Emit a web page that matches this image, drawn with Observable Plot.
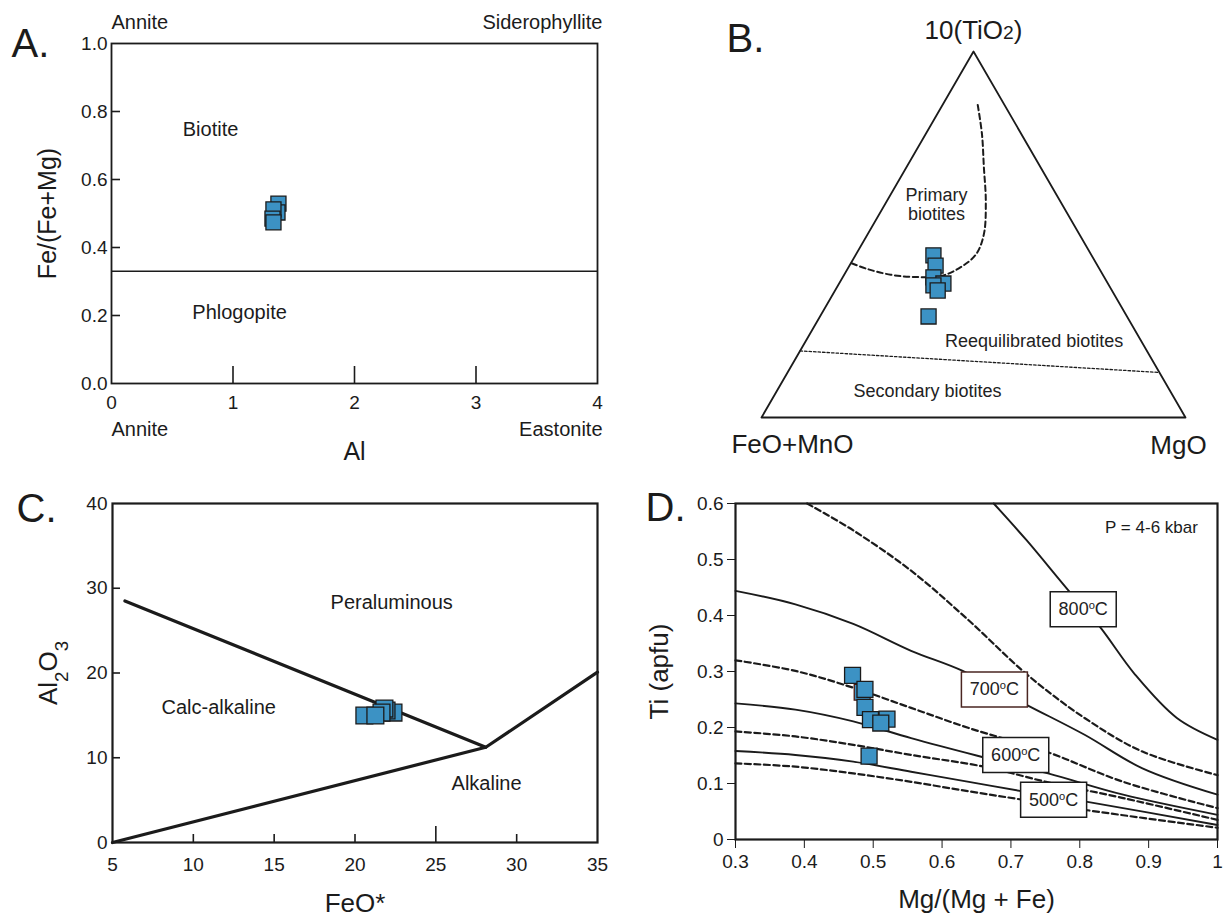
<!DOCTYPE html>
<html>
<head>
<meta charset="utf-8">
<script src="https://cdn.jsdelivr.net/npm/d3@7"></script>
<script src="https://cdn.jsdelivr.net/npm/@observablehq/plot@0.6"></script>
<style>
  body { margin: 0; background: #fff; }
  #fig { position: relative; width: 1226px; height: 920px; background: #fff; overflow: hidden; }
  #fig svg [aria-label^="x-axis"] text, #fig svg [aria-label^="y-axis"] text { font-size: 19px; }
</style>
</head>
<body>
<div id="fig"></div>
<script>
// ================= DATA =================
// Panel A: Al vs Fe/(Fe+Mg)
const aAl = [1.374, 1.366, 1.333, 1.325, 1.333];
const aFeRatio = [0.529, 0.503, 0.512, 0.485, 0.474];
const aTicksX = [0, 1, 2, 3, 4];
const aTicksY = [0, 0.2, 0.4, 0.6, 0.8, 1.0];
const aBoundary = [0.33];
const aFieldNames = ["Biotite", "Phlogopite"];
const aFieldX = [0.815, 1.054];
const aFieldY = [0.747, 0.21];

// Panel B: ternary 10(TiO2) - (FeO+MnO) - MgO (fractions)
const bFeO = [0.373, 0.382, 0.403, 0.388, 0.414, 0.411, 0.468];
const bMgO = [0.184, 0.203, 0.214, 0.246, 0.225, 0.242, 0.256];
const bTiO2 = [0.443, 0.415, 0.383, 0.366, 0.361, 0.347, 0.276];
const bPrimaryFe = [0.063, 0.093, 0.134, 0.175, 0.225, 0.271, 0.326, 0.382, 0.448, 0.500, 0.546, 0.578];
const bPrimaryMg = [0.083, 0.133, 0.183, 0.233, 0.274, 0.283, 0.264, 0.231, 0.168, 0.110, 0.049, 0.000];
const bPrimaryTi = [0.854, 0.774, 0.683, 0.592, 0.501, 0.446, 0.410, 0.387, 0.384, 0.390, 0.405, 0.422];
const bSecondaryFe = [0.818, 0.000];
const bSecondaryMg = [0.000, 0.877];
const bSecondaryTi = [0.182, 0.123];
const bTriFe = [1, 0, 0, 1];
const bTriMg = [0, 1, 0, 0];
const bTriTi = [0, 0, 1, 0];
const bFieldNames = ["Primary\nbiotites", "Reequilibrated biotites", "Secondary biotites"];
const bFieldFe = [0.297, 0.253, 0.572];
const bFieldMg = [0.122, 0.539, 0.355];
const bFieldTi = [0.581, 0.208, 0.073];

// Panel C: FeO* vs Al2O3
const cFeO = [22.38, 21.95, 21.82, 21.64, 20.58, 21.26];
const cAl2O3 = [15.33, 15.57, 15.80, 15.33, 14.98, 14.98];
const cUpperX = [5.77, 28.09];
const cUpperY = [28.5, 11.24];
const cLowerX = [5, 28.09, 35];
const cLowerY = [0, 11.24, 20.1];
const cTicksX = [5, 10, 15, 20, 25, 30, 35];
const cTicksY = [0, 10, 20, 30, 40];
const cFieldNames = ["Peraluminous", "Calc-alkaline", "Alkaline"];
const cFieldX = [22.27, 11.57, 28.14];
const cFieldY = [28.3, 15.96, 7.0];

// Panel D: Mg/(Mg+Fe) vs Ti (apfu) isotherms
const dMg = [0.484, 0.470, 0.488, 0.488, 0.520, 0.496, 0.511, 0.494];
const dTi = [0.263, 0.293, 0.268, 0.236, 0.215, 0.214, 0.208, 0.149];
const d800X = [0.675, 0.723, 0.784, 0.829, 0.880, 0.941, 1.0];
const d800Y = [0.600, 0.534, 0.444, 0.380, 0.295, 0.217, 0.178];
const d750X = [0.404, 0.471, 0.555, 0.639, 0.723, 0.807, 0.891, 1.0];
const d750Y = [0.600, 0.552, 0.480, 0.391, 0.295, 0.217, 0.157, 0.115];
const d700X = [0.3, 0.387, 0.471, 0.555, 0.630, 0.722, 0.807, 0.891, 1.0];
const d700Y = [0.444, 0.420, 0.385, 0.337, 0.301, 0.241, 0.187, 0.127, 0.080];
const d650X = [0.3, 0.387, 0.471, 0.555, 0.639, 0.751, 0.863, 1.0];
const d650Y = [0.320, 0.301, 0.271, 0.235, 0.199, 0.157, 0.103, 0.056];
const d600X = [0.3, 0.387, 0.471, 0.555, 0.650, 0.754, 0.863, 1.0];
const d600Y = [0.243, 0.232, 0.211, 0.181, 0.150, 0.118, 0.080, 0.044];
const d550X = [0.3, 0.387, 0.471, 0.555, 0.661, 0.751, 0.863, 1.0];
const d550Y = [0.193, 0.184, 0.169, 0.151, 0.130, 0.103, 0.074, 0.035];
const d500X = [0.3, 0.387, 0.471, 0.555, 0.639, 0.717, 0.807, 1.0];
const d500Y = [0.158, 0.151, 0.139, 0.121, 0.103, 0.086, 0.068, 0.026];
const d450X = [0.3, 0.387, 0.471, 0.555, 0.639, 0.717, 0.807, 1.0];
const d450Y = [0.136, 0.130, 0.118, 0.103, 0.086, 0.071, 0.053, 0.021];
const dBoxLabels = ["800^oC", "700^oC", "600^oC", "500^oC"];
const dBoxX = [0.805, 0.676, 0.707, 0.762];
const dBoxY = [0.411, 0.268, 0.151, 0.071];
const dTicksX = [0.3, 0.4, 0.5, 0.6, 0.7, 0.8, 0.9, 1.0];
const dTicksY = [0, 0.1, 0.2, 0.3, 0.4, 0.5, 0.6];

// ================= HELPERS =================
const W = 613, H = 460;
const font = '"Liberation Sans", Arial, Helvetica, sans-serif';
const ink = "#1b1b1b";
const blue = "#3c92c4";
const baseStyle = {fontFamily: font, fontSize: "19px", color: ink, background: "transparent", overflow: "visible"};
const pts = (xs, ys) => xs.map((x, i) => ({x, y: ys[i]}));
const one = s => [s];
const ID = d => d;
// label placed relative to the frame, centred on its anchor point
const lab = (s, anchor, dx, dy, fontSize, extra = {}) =>
  Plot.text(one(s), {frameAnchor: anchor, text: ID, dx, dy, fontSize, textAnchor: "middle", lineAnchor: "middle", fill: ink, ...extra});

function richify(svg) {
  svg.querySelectorAll("text").forEach(t => {
    if (t.children.length) return;
    const s = t.textContent;
    if (!/[_^~]/.test(s)) return;
    const parts = s.split(/([_^~].)/).filter(p => p);
    t.textContent = "";
    for (const p of parts) {
      const ts = document.createElementNS("http://www.w3.org/2000/svg", "tspan");
      if (p[0] === "_") { ts.textContent = p[1]; ts.setAttribute("font-size", "72%"); ts.setAttribute("baseline-shift", "sub"); }
      else if (p[0] === "^") { ts.textContent = p[1]; ts.setAttribute("font-size", "62%"); ts.setAttribute("baseline-shift", "super"); }
      else if (p[0] === "~") { ts.textContent = p[1]; ts.setAttribute("font-size", "74%"); }
      else ts.textContent = p;
      t.appendChild(ts);
    }
  });
}
function mount(svg, left, top) {
  svg.style.position = "absolute";
  svg.style.left = left + "px";
  svg.style.top = top + "px";
  richify(svg);
  document.getElementById("fig").appendChild(svg);
}
const sq = (r) => ({symbol: "square", r, fill: blue, stroke: ink, strokeWidth: 1.3});

// ================= PANEL A =================
{
  const rows = aAl.map((x, i) => ({x, y: aFeRatio[i]}));
  const fields = aFieldNames.map((t, i) => ({t, x: aFieldX[i], y: aFieldY[i]}));
  const p = Plot.plot({
    width: W, height: H, marginLeft: 111, marginRight: 16, marginTop: 43, marginBottom: 77,
    style: baseStyle,
    x: {domain: [0, 4], ticks: aTicksX, tickSize: 0, tickPadding: 12, tickFormat: d => String(d), label: null},
    y: {domain: [0, 1], ticks: aTicksY, tickSize: 0, tickPadding: 4, tickFormat: d3.format(".1f"), label: null},
    marks: [
      Plot.ruleY(aBoundary, {stroke: ink, strokeWidth: 1.5}),
      Plot.ruleX(aTicksX.slice(1, -1), {stroke: ink, strokeWidth: 1.6, insetTop: 323}),
      Plot.ruleY(aTicksY.slice(1, -1), {stroke: ink, strokeWidth: 1.6, insetRight: 477}),
      Plot.frame({stroke: ink, strokeWidth: 1.8}),
      Plot.text(fields, {x: "x", y: "y", text: "t", fontSize: 20, fill: ink}),
      lab("Annite", "top-left", 0, -21, 20, {textAnchor: "start"}),
      lab("Siderophyllite", "top-right", 5, -21, 20, {textAnchor: "end"}),
      lab("Annite", "bottom-left", 0, 46, 20, {textAnchor: "start"}),
      lab("Eastonite", "bottom-right", 5, 46, 20, {textAnchor: "end"}),
      lab("Al", "bottom", 0, 68, 25),
      lab("Fe/(Fe+Mg)", "left", -64, 0, 25, {rotate: -90}),
      lab("A.", "top-left", -81, 1, 40),
      Plot.dot(rows, {x: "x", y: "y", ...sq(8.5)})
    ]
  });
  mount(p, 0, 0);
}

// ================= PANEL B =================
{
  const tx = d => (d.mg + d.ti / 2) / (d.fe + d.mg + d.ti);
  const ty = d => d.ti / (d.fe + d.mg + d.ti);
  const mk = (fe, mg, ti) => fe.map((f, i) => ({fe: f, mg: mg[i], ti: ti[i]}));
  const samples = mk(bFeO, bMgO, bTiO2);
  const tri = mk(bTriFe, bTriMg, bTriTi);
  const primary = mk(bPrimaryFe, bPrimaryMg, bPrimaryTi);
  const secondary = mk(bSecondaryFe, bSecondaryMg, bSecondaryTi);
  const fields = mk(bFieldFe, bFieldMg, bFieldTi).map((d, i) => ({...d, t: bFieldNames[i]}));
  const p = Plot.plot({
    width: W, height: H, marginLeft: 148, marginRight: 41, marginTop: 51, marginBottom: 43,
    style: baseStyle,
    x: {domain: [0, 1], axis: null},
    y: {domain: [0, 1], axis: null},
    marks: [
      Plot.line(tri, {x: tx, y: ty, stroke: ink, strokeWidth: 1.8}),
      Plot.line(primary, {x: tx, y: ty, stroke: ink, strokeWidth: 2, strokeDasharray: "5.5,3.5", curve: "catmull-rom"}),
      Plot.line(secondary, {x: tx, y: ty, stroke: ink, strokeWidth: 1.3, strokeDasharray: "2.5,2"}),
      Plot.text(fields, {x: tx, y: ty, text: "t", fontSize: 18, lineHeight: 1.05, fill: "#222"}),
      lab("10(TiO~2)", "top", 0, -21, 26),
      lab("FeO+MnO", "bottom-left", 31, 27, 26),
      lab("MgO", "bottom-right", -7, 28, 26),
      lab("B.", "top-left", -16, -12, 40),
      Plot.dot(samples, {x: tx, y: ty, ...sq(8.5)})
    ]
  });
  mount(p, 613, 0);
}

// ================= PANEL C =================
{
  const rows = cFeO.map((x, i) => ({x, y: cAl2O3[i]}));
  const fields = cFieldNames.map((t, i) => ({t, x: cFieldX[i], y: cFieldY[i]}));
  const p = Plot.plot({
    width: W, height: H, marginLeft: 112, marginRight: 16, marginTop: 43, marginBottom: 78,
    style: baseStyle,
    x: {domain: [5, 35], ticks: cTicksX, tickSize: 0, tickPadding: 15, label: null},
    y: {domain: [0, 40], ticks: cTicksY, tickSize: 0, tickPadding: 5, label: null},
    marks: [
      Plot.ruleX(cTicksX.filter(v => v > 5 && v < 35 && v !== 25), {stroke: ink, strokeWidth: 1.6, insetTop: 331}),
      Plot.ruleX(cTicksX.filter(v => v === 25), {stroke: ink, strokeWidth: 1.6, insetTop: 323}),
      Plot.ruleY(cTicksY.filter(v => v > 0 && v < 40), {stroke: ink, strokeWidth: 1.6, insetRight: 477}),
      Plot.line(pts(cUpperX, cUpperY), {x: "x", y: "y", stroke: ink, strokeWidth: 3.2}),
      Plot.line(pts(cLowerX, cLowerY), {x: "x", y: "y", stroke: ink, strokeWidth: 3.2}),
      Plot.frame({stroke: ink, strokeWidth: 2.2}),
      Plot.text(fields, {x: "x", y: "y", text: "t", fontSize: 20, fill: ink}),
      lab("FeO*", "bottom", 0, 61, 26),
      lab("Al_2O_3", "left", -64, 0, 26, {rotate: -90}),
      lab("C.", "top-left", -76, 6, 40),
      Plot.dot(rows, {x: "x", y: "y", ...sq(9.5)})
    ]
  });
  mount(p, 0, 460);
}

// ================= PANEL D =================
{
  const rows = dMg.map((x, i) => ({x, y: dTi[i], first: i === 0}));
  const boxes = dBoxLabels.map((t, i) => ({t, x: dBoxX[i], y: dBoxY[i]}));
  const labelBox = {draw(ctx) { ctx.moveTo(-33, -17.5); ctx.lineTo(33, -17.5); ctx.lineTo(33, 17.5); ctx.lineTo(-33, 17.5); ctx.closePath(); }};
  const solid = {x: "x", y: "y", stroke: ink, strokeWidth: 1.9, curve: "catmull-rom"};
  const dashed = {x: "x", y: "y", stroke: ink, strokeWidth: 2.2, strokeDasharray: "6,3.5", curve: "catmull-rom"};
  const p = Plot.plot({
    width: W, height: H, marginLeft: 122, marginRight: 9, marginTop: 43, marginBottom: 81,
    style: baseStyle,
    x: {domain: [0.3, 1], ticks: dTicksX, tickSize: 9, tickPadding: 6, tickFormat: d => d === 1 ? "1" : d.toFixed(1), label: null},
    y: {domain: [0, 0.6], ticks: dTicksY, tickSize: 8, tickPadding: 4, tickFormat: d => d === 0 ? "0" : d.toFixed(1), label: null},
    marks: [
      Plot.line(pts(d800X, d800Y), solid),
      Plot.line(pts(d750X, d750Y), dashed),
      Plot.line(pts(d700X, d700Y), solid),
      Plot.line(pts(d650X, d650Y), dashed),
      Plot.line(pts(d600X, d600Y), solid),
      Plot.line(pts(d550X, d550Y), dashed),
      Plot.line(pts(d500X, d500Y), solid),
      Plot.line(pts(d450X, d450Y), dashed),
      Plot.frame({stroke: ink, strokeWidth: 2.2}),
      Plot.dot(boxes, {x: "x", y: "y", symbol: labelBox, fill: "white", stroke: (d, i) => i === 1 ? "#4a2622" : ink, strokeWidth: 1.5}),
      Plot.text(boxes, {x: "x", y: "y", text: "t", fontSize: 18, fill: "#222"}),
      lab("P = 4-6 kbar", "top-right", -66, 24, 17),
      lab("Mg/(Mg + Fe)", "bottom", 0, 60, 26),
      lab("Ti (apfu)", "left", -76, 0, 26, {rotate: -90}),
      lab("D.", "top-left", -70, 5, 40),
      Plot.dot(rows, {x: "x", y: "y", symbol: "square", r: 9, fill: blue, stroke: d => d.first ? "#4a1a12" : ink, strokeWidth: 1.3})
    ]
  });
  mount(p, 613, 460);
}
</script>
</body>
</html>
